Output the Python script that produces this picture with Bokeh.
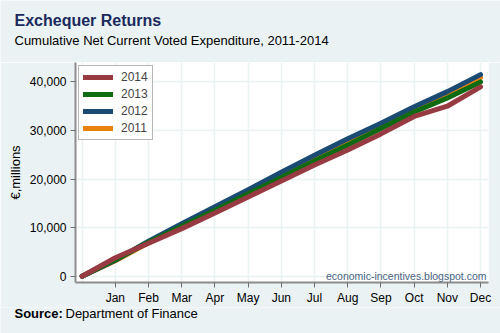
from bokeh.plotting import figure
from bokeh.layouts import column
from bokeh.models import Range1d, FixedTicker, Label, Legend, LegendItem, NumeralTickFormatter
from bokeh.embed import file_html
from bokeh.resources import INLINE

months = ["Jan", "Feb", "Mar", "Apr", "May", "Jun", "Jul", "Aug", "Sep", "Oct", "Nov", "Dec"]
x_pos = list(range(13))  # 0 = start of year
y2014 = [0, 3800, 6800, 9800, 13000, 16300, 19600, 22900, 26000, 29300, 32900, 35000, 39000]
y2013 = [0, 3400, 7000, 10300, 13600, 17000, 20300, 23700, 27000, 30400, 33800, 36700, 40000]
y2012 = [0, 3300, 7200, 10800, 14300, 17800, 21400, 24900, 28300, 31500, 34900, 38000, 41500]
y2011 = [0, 3200, 6900, 10500, 14000, 17400, 20900, 24400, 27800, 31100, 34600, 37700, 40900]
y_ticks = [0, 10000, 20000, 30000, 40000]

BG = "#EAF2F3"
FONT = "Liberation Sans"
W = 500
TOP_H, MAIN_H, BOT_H = 62, 245, 26


def text_strip(h):
    f = figure(width=W, height=h, output_backend="svg", toolbar_location=None,
               x_range=Range1d(0, W), y_range=Range1d(0, h), x_axis_type=None, y_axis_type=None,
               min_border=0, frame_align=False)
    f.background_fill_color = BG
    f.border_fill_color = BG
    f.outline_line_color = None
    f.xgrid.visible = False
    f.ygrid.visible = False
    return f


# ---- title strip ----
top = text_strip(TOP_H)
top.add_layout(Label(x=14, y=TOP_H - 20, text="Exchequer Returns", text_font=FONT, text_font_size="16px",
                     text_font_style="bold", text_color="#1A2A5C", text_baseline="middle"))
top.add_layout(Label(x=14, y=TOP_H - 40, text="Cumulative Net Current Voted Expenditure, 2011-2014",
                     text_font=FONT, text_font_size="13px", text_color="black", text_baseline="middle"))

# ---- main chart ----
p = figure(width=W, height=MAIN_H, output_backend="svg", toolbar_location=None,
           x_range=Range1d(-0.2, 12.24), y_range=Range1d(-1290, 44000),
           min_border_left=75, min_border_right=12, min_border_top=0, min_border_bottom=24,
           frame_align=False)
p.background_fill_color = "white"
p.border_fill_color = BG
p.outline_line_color = None

p.xgrid.ticker = FixedTicker(ticks=x_pos)
p.ygrid.ticker = FixedTicker(ticks=y_ticks)
for g in (p.xgrid, p.ygrid):
    g.grid_line_color = BG
    g.grid_line_width = 1.5

p.xaxis.ticker = FixedTicker(ticks=x_pos[1:])
p.xaxis.major_label_overrides = {i + 1: m for i, m in enumerate(months)}
p.yaxis.ticker = FixedTicker(ticks=y_ticks)
p.yaxis.formatter = NumeralTickFormatter(format="0,0")
for ax in (p.xaxis, p.yaxis):
    ax.axis_line_color = "#8C8C8C"
    ax.axis_line_width = 2
    ax.major_tick_line_color = "#6E6E6E"
    ax.major_tick_in = 0
    ax.major_tick_out = 5
    ax.minor_tick_line_color = None
    ax.major_label_text_font = FONT
    ax.major_label_text_font_size = "12px"
    ax.major_label_text_color = "black"
p.xaxis.major_label_standoff = 3
p.yaxis.major_label_standoff = 4
p.yaxis.major_label_orientation = "horizontal"
p.yaxis.axis_label = "€,millions"
p.yaxis.axis_label_text_font = FONT
p.yaxis.axis_label_text_font_size = "13px"
p.yaxis.axis_label_text_font_style = "normal"
p.yaxis.axis_label_text_color = "black"
p.yaxis.axis_label_standoff = 4

series = [("2011", y2011, "#E8820C"), ("2012", y2012, "#1B4A73"),
          ("2013", y2013, "#0F6B12"), ("2014", y2014, "#983A42")]
renderers = {}
for name, ys, col in series:
    renderers[name] = p.line(x_pos, ys, line_color=col, line_width=5, line_cap="round", line_join="round")

legend = Legend(items=[LegendItem(label=n, renderers=[renderers[n]]) for n in ["2014", "2013", "2012", "2011"]],
                location="top_left")
legend.margin = 3
legend.padding = 4
legend.spacing = 3
legend.glyph_width = 30
legend.glyph_height = 14
legend.label_height = 14
legend.label_standoff = 8
legend.label_text_font = FONT
legend.label_text_font_size = "12px"
legend.border_line_color = "#707070"
legend.border_line_width = 1
legend.background_fill_color = "white"
legend.background_fill_alpha = 1
p.add_layout(legend, "center")

p.add_layout(Label(x=12.18, y=0, text="economic-incentives.blogspot.com", text_align="right",
                   text_baseline="middle", text_font=FONT, text_font_size="10.5px", text_color="#4A6582"))

# ---- source strip ----
bot = text_strip(BOT_H)
bot.add_layout(Label(x=14, y=BOT_H - 6, text="Source:", text_font=FONT, text_font_size="13px",
                     text_font_style="bold", text_color="black", text_baseline="middle"))
bot.add_layout(Label(x=65, y=BOT_H - 6, text="Department of Finance", text_font=FONT, text_font_size="13px",
                     text_color="black", text_baseline="middle"))

layout = column(top, p, bot, spacing=0)
open("out.html", "w").write(file_html(layout, INLINE))
